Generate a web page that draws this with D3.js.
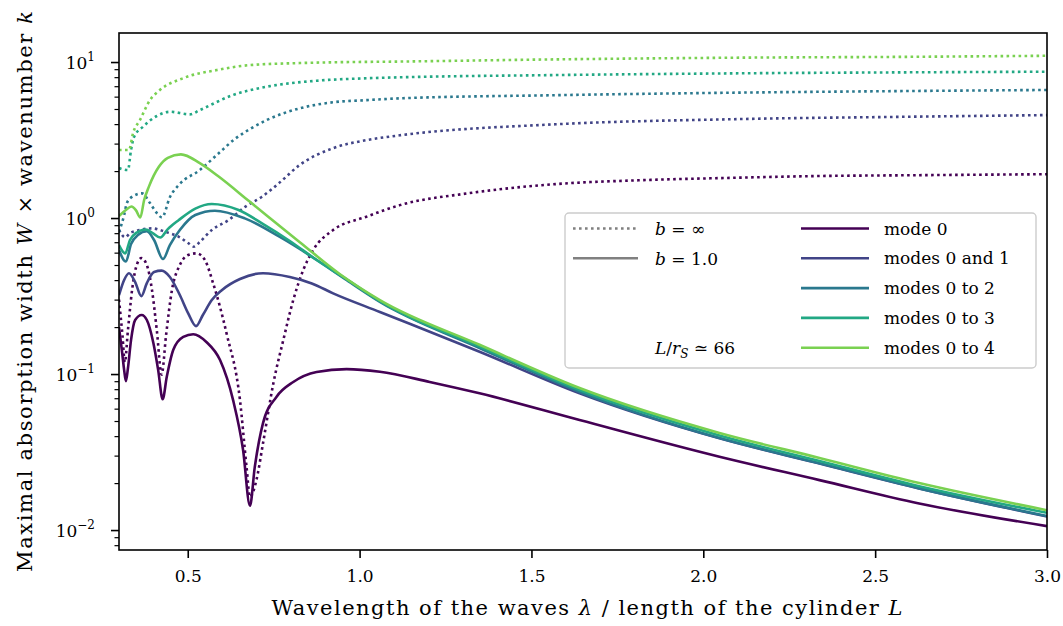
<!DOCTYPE html>
<html>
<head>
<meta charset="utf-8">
<script src="https://cdn.jsdelivr.net/npm/d3@7"></script>
<style>
  body { margin: 0; background: #fff; }
  svg text { font-family: "DejaVu Serif", serif; fill: #000; }
</style>
</head>
<body>
<div id="chartDiv"></div>
<script>
// ---- data: [lambda / L, W * k] ----
// b = 1.0 (solid)
const m0Fin = [[0.300,0.20],[0.309,0.138],[0.315,0.106],[0.320,0.090],[0.326,0.109],[0.335,0.165],[0.347,0.222],[0.366,0.239],[0.381,0.222],[0.400,0.158],[0.414,0.106],[0.427,0.069],[0.439,0.096],[0.458,0.143],[0.487,0.173],[0.516,0.180],[0.555,0.160],[0.594,0.123],[0.632,0.068],[0.661,0.0326],[0.681,0.0143],[0.695,0.0253],[0.719,0.0485],[0.758,0.0713],[0.807,0.0889],[0.875,0.103],[0.962,0.1076],[1.059,0.1035],[1.204,0.089],[1.349,0.0752],[1.640,0.0507],[2.047,0.0295],[2.338,0.0209],[2.628,0.0148],[3.0,0.0106]];
const m01Fin = [[0.300,0.32],[0.315,0.401],[0.329,0.443],[0.347,0.389],[0.365,0.316],[0.381,0.383],[0.402,0.451],[0.424,0.460],[0.448,0.419],[0.477,0.321],[0.501,0.246],[0.524,0.203],[0.544,0.239],[0.570,0.298],[0.599,0.345],[0.652,0.407],[0.719,0.443],[0.797,0.419],[0.861,0.381],[0.923,0.329],[1.059,0.250],[1.349,0.139],[1.640,0.0752],[2.047,0.0387],[2.338,0.0267],[2.628,0.0185],[3.0,0.0122]];
const m02Fin = [[0.300,0.624],[0.320,0.526],[0.335,0.681],[0.355,0.778],[0.381,0.822],[0.402,0.723],[0.428,0.546],[0.448,0.671],[0.477,0.838],[0.522,1.045],[0.579,1.114],[0.666,0.995],[0.768,0.756],[0.861,0.565],[0.957,0.407],[1.059,0.290],[1.349,0.147],[1.640,0.0768],[2.047,0.0389],[2.338,0.0268],[2.628,0.0185],[3.0,0.0123]];
const m03Fin = [[0.300,0.671],[0.318,0.594],[0.332,0.723],[0.349,0.801],[0.378,0.844],[0.398,0.801],[0.420,0.750],[0.442,0.849],[0.474,0.971],[0.522,1.15],[0.570,1.23],[0.648,1.125],[0.716,0.925],[0.797,0.713],[0.875,0.538],[0.957,0.412],[1.059,0.293],[1.349,0.150],[1.640,0.079],[2.047,0.0404],[2.338,0.0277],[2.628,0.0191],[3.0,0.0129]];
const m04Fin = [[0.300,1.03],[0.320,1.125],[0.336,1.185],[0.349,1.125],[0.362,1.01],[0.373,1.30],[0.387,1.59],[0.416,2.13],[0.442,2.43],[0.480,2.56],[0.535,2.25],[0.588,1.86],[0.681,1.27],[0.826,0.70],[0.942,0.438],[1.059,0.298],[1.349,0.154],[1.640,0.0813],[2.047,0.0419],[2.338,0.0290],[2.628,0.0200],[3.0,0.0134]];
// b = infinity (dotted)
const m0Inf = [[0.300,0.30],[0.310,0.178],[0.317,0.119],[0.326,0.191],[0.338,0.345],[0.349,0.478],[0.365,0.554],[0.381,0.50],[0.396,0.345],[0.410,0.191],[0.424,0.099],[0.437,0.178],[0.454,0.345],[0.477,0.50],[0.501,0.579],[0.526,0.594],[0.550,0.538],[0.574,0.381],[0.613,0.182],[0.652,0.068],[0.671,0.0255],[0.681,0.0163],[0.700,0.021],[0.719,0.036],[0.749,0.0871],[0.778,0.165],[0.807,0.298],[0.836,0.464],[0.865,0.624],[0.923,0.837],[1.020,1.02],[1.117,1.21],[1.315,1.44],[1.570,1.65],[1.826,1.75],[2.082,1.81],[2.339,1.86],[2.595,1.88],[3.0,1.91]];
const m01Inf = [[0.300,0.84],[0.318,0.752],[0.332,0.801],[0.349,0.826],[0.373,0.850],[0.396,0.859],[0.434,0.817],[0.474,0.758],[0.501,0.692],[0.518,0.655],[0.535,0.702],[0.570,0.838],[0.619,0.971],[0.667,1.18],[0.716,1.37],[0.765,1.67],[0.826,2.19],[0.922,2.80],[1.021,3.16],[1.117,3.39],[1.570,3.99],[2.085,4.30],[2.597,4.46],[3.0,4.57]];
const m02Inf = [[0.300,0.813],[0.315,1.045],[0.323,1.25],[0.341,1.38],[0.367,1.44],[0.390,1.25],[0.408,1.09],[0.425,1.01],[0.448,1.36],[0.474,1.63],[0.535,2.03],[0.585,2.54],[0.637,3.21],[0.681,3.72],[0.730,4.25],[0.826,5.05],[0.922,5.52],[1.021,5.70],[1.117,5.85],[1.570,6.13],[2.085,6.36],[2.597,6.52],[3.0,6.62]];
const m03Inf = [[0.300,2.09],[0.326,2.03],[0.335,2.73],[0.344,3.32],[0.370,3.85],[0.410,4.51],[0.448,4.80],[0.506,4.62],[0.535,4.92],[0.631,6.14],[0.730,6.95],[0.876,7.59],[1.021,7.87],[1.117,7.98],[1.570,8.25],[2.085,8.46],[2.597,8.59],[3.0,8.67]];
const m04Inf = [[0.300,2.73],[0.329,2.73],[0.341,3.51],[0.361,4.25],[0.390,5.70],[0.419,6.62],[0.486,7.87],[0.585,8.89],[0.681,9.56],[0.826,9.85],[0.972,10.0],[1.059,10.04],[1.570,10.4],[2.085,10.66],[2.597,10.8],[3.0,10.97]];

const modeLabels = ["mode 0", "modes 0 and 1", "modes 0 to 2", "modes 0 to 3", "modes 0 to 4"];
const modeColors = ["#440154", "#414487", "#2a788e", "#22a884", "#7ad151"];
const xTicks = [0.5, 1.0, 1.5, 2.0, 2.5, 3.0];
const yMajor = [0.01, 0.1, 1, 10];
const yMajorExp = ["\u22122", "\u22121", "0", "1"];
const xDomain = [0.3, 3.0];
const yDomain = [0.00745, 15.35];

const finSeries = [m0Fin, m01Fin, m02Fin, m03Fin, m04Fin];
const infSeries = [m0Inf, m01Inf, m02Inf, m03Inf, m04Inf];

// settings
const s = { w: 1063, h: 626, m: { t: 33, r: 16, b: 76, l: 119 } };
const lw = 2.6;
const dots = "2.6,3.4";
const fTick = 17, fLeg = 17, fLab = 21;

const svg = d3.select("#chartDiv").append("svg")
  .attr("width", s.w).attr("height", s.h);

const x = d3.scaleLinear().domain(xDomain).range([s.m.l, s.w - s.m.r]);
const y = d3.scaleLog().domain(yDomain).range([s.h - s.m.b, s.m.t]);

svg.append("clipPath").attr("id", "plotClip")
  .append("rect")
  .attr("x", s.m.l).attr("y", s.m.t)
  .attr("width", x.range()[1] - s.m.l)
  .attr("height", y.range()[0] - s.m.t);

const lineFn = d3.line()
  .x(d => x(d[0]))
  .y(d => y(d[1]))
  .curve(d3.curveMonotoneX);

// curves
const curveG = svg.append("g").attr("clip-path", "url(#plotClip)");
modeColors.forEach((c, i) => {
  curveG.append("path")
    .attr("d", lineFn(infSeries[i]))
    .attr("fill", "none").attr("stroke", c)
    .attr("stroke-width", lw).attr("stroke-dasharray", dots);
  curveG.append("path")
    .attr("d", lineFn(finSeries[i]))
    .attr("fill", "none").attr("stroke", c)
    .attr("stroke-width", lw).attr("stroke-linejoin", "round");
});

// x axis
const xAxis = svg.append("g")
  .attr("transform", `translate(0,${y.range()[0]})`)
  .call(d3.axisBottom(x).tickValues(xTicks).tickSize(8).tickPadding(12)
    .tickFormat(d3.format(".1f")));
xAxis.select(".domain").remove();
xAxis.selectAll("line").attr("stroke-width", 1.6);
xAxis.selectAll("text").attr("font-size", fTick);

// y axis majors
const yAxis = svg.append("g")
  .attr("transform", `translate(${s.m.l},0)`)
  .call(d3.axisLeft(y).tickValues(yMajor).tickSize(8).tickFormat(""));
yAxis.select(".domain").remove();
yAxis.selectAll("line").attr("stroke-width", 1.6);

// y axis minors
const yMinor = [];
[-3, -2, -1, 0, 1].forEach(e => {
  for (let k = 2; k <= 9; k++) {
    const v = k * Math.pow(10, e);
    if (v > yDomain[0] && v < yDomain[1]) yMinor.push(v);
  }
});
const yAxisMinor = svg.append("g")
  .attr("transform", `translate(${s.m.l},0)`)
  .call(d3.axisLeft(y).tickValues(yMinor).tickSize(4.5).tickFormat(""));
yAxisMinor.select(".domain").remove();
yAxisMinor.selectAll("line").attr("stroke-width", 1.2);

// y tick labels as 10^n
yMajor.forEach((v, i) => {
  const t = svg.append("text")
    .attr("x", s.m.l - 24).attr("y", y(v) + 7)
    .attr("text-anchor", "end").attr("font-size", fTick)
    .text("10");
  t.append("tspan").attr("dy", -8).attr("font-size", 12).text(yMajorExp[i]);
});

// frame
svg.append("rect")
  .attr("x", s.m.l).attr("y", s.m.t)
  .attr("width", x.range()[1] - s.m.l)
  .attr("height", y.range()[0] - s.m.t)
  .attr("fill", "none").attr("stroke", "#000").attr("stroke-width", 1.6);

// axis labels
const xLab = svg.append("text")
  .attr("x", (s.m.l + x.range()[1]) / 2 + 4).attr("y", 615)
  .attr("text-anchor", "middle").attr("font-size", fLab)
  .attr("textLength", 631).attr("lengthAdjust", "spacing");
xLab.append("tspan").text("Wavelength of the waves ");
xLab.append("tspan").attr("font-style", "italic").text("\u03bb");
xLab.append("tspan").text(" / length of the cylinder ");
xLab.append("tspan").attr("font-style", "italic").text("L");

const yLab = svg.append("text")
  .attr("transform", `translate(32,${(s.m.t + y.range()[0]) / 2}) rotate(-90)`)
  .attr("text-anchor", "middle").attr("font-size", fLab)
  .attr("textLength", 561).attr("lengthAdjust", "spacing");
yLab.append("tspan").text("Maximal absorption width ");
yLab.append("tspan").attr("font-style", "italic").text("W");
yLab.append("tspan").text(" \u00d7 wavenumber ");
yLab.append("tspan").attr("font-style", "italic").text("k");

// legend
const leg = { x: 565, y: 213, w: 471, h: 155, row0: 228.5, dy: 29.8 };
const legG = svg.append("g");
legG.append("rect")
  .attr("x", leg.x).attr("y", leg.y).attr("width", leg.w).attr("height", leg.h)
  .attr("rx", 4).attr("fill", "#fff").attr("fill-opacity", 0.8)
  .attr("stroke", "#cccccc").attr("stroke-width", 1.4);

const styleRows = [{ dash: dots, val: "\u221e" }, { dash: null, val: "1.0" }];
styleRows.forEach((r, i) => {
  const ry = leg.row0 + i * leg.dy;
  legG.append("line")
    .attr("x1", 573).attr("x2", 638).attr("y1", ry).attr("y2", ry)
    .attr("stroke", "#808080").attr("stroke-width", lw)
    .attr("stroke-dasharray", r.dash);
  const t = legG.append("text").attr("x", 655).attr("y", ry + 6.5).attr("font-size", fLeg);
  t.append("tspan").attr("font-style", "italic").text("b");
  t.append("tspan").text(" = " + r.val);
});

const noteY = leg.row0 + 4 * leg.dy + 6;
const note = legG.append("text").attr("x", 655).attr("y", noteY).attr("font-size", fLeg);
note.append("tspan").attr("font-style", "italic").text("L");
note.append("tspan").text("/");
note.append("tspan").attr("font-style", "italic").text("r");
note.append("tspan").attr("font-style", "italic").attr("font-size", 12).attr("dy", 4).text("S");
note.append("tspan").attr("dy", -4).text(" \u2243 66");

modeLabels.forEach((lab, i) => {
  const ry = leg.row0 + i * leg.dy;
  legG.append("line")
    .attr("x1", 801).attr("x2", 869).attr("y1", ry).attr("y2", ry)
    .attr("stroke", modeColors[i]).attr("stroke-width", lw);
  legG.append("text").attr("x", 884).attr("y", ry + 6).attr("font-size", fLeg).text(lab);
});
</script>
</body>
</html>
